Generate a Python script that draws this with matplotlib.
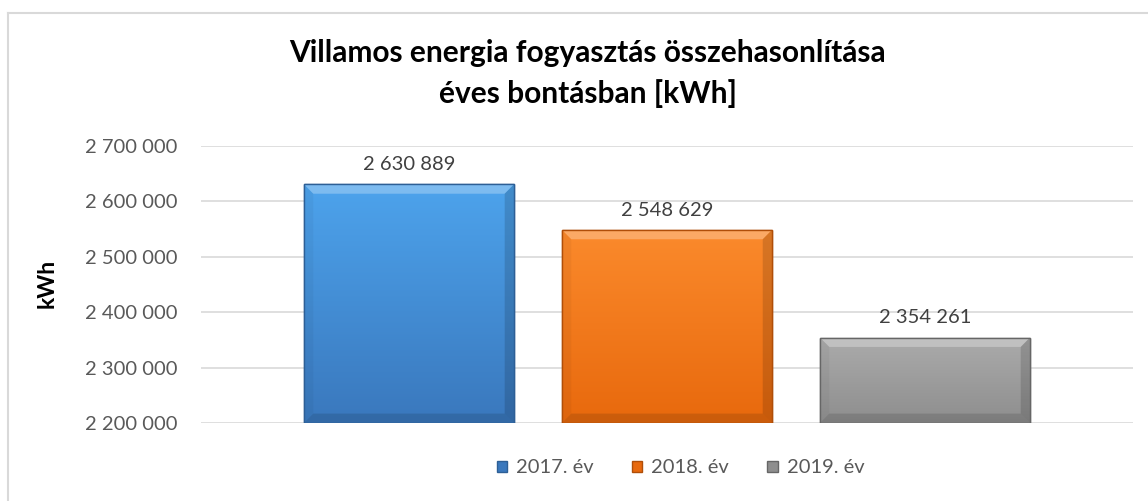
import numpy as np
import matplotlib.pyplot as plt
from matplotlib.colors import LinearSegmentedColormap
from matplotlib.lines import Line2D
from matplotlib.patches import Patch, Polygon

#//==\\--//==\\--//==\\--//==\\--//==\\--//==\\--//==\\--//==\\--//==\\--//==\\#

years   = ["2017. év", "2018. év", "2019. év"]
values  = [2630889, 2548629, 2354261]
labels  = ["2 630 889", "2 548 629", "2 354 261"]
yticks  = [2200000, 2300000, 2400000, 2500000, 2600000, 2700000]
ytick_labels = ["2 200 000", "2 300 000", "2 400 000", "2 500 000", "2 600 000", "2 700 000"]

# (top colour, bottom colour, edge colour) for each series
colors = [("#4da3ec", "#3a78bd", "#2d5f96"),
          ("#fb8a2c", "#e8690d", "#b04e08"),
          ("#ababab", "#8e8e8e", "#666666")]

title = "Villamos energia fogyasztás összehasonlítása\néves bontásban [kWh]"

#//==\\--//==\\--//==\\--//==\\--//==\\--//==\\--//==\\--//==\\--//==\\--//==\\#

plt.rcParams['font.family'] = ['Lato', 'DejaVu Sans']

fig = plt.figure(figsize=(11.48, 5.01), dpi=100)
ax = fig.add_axes([0.1751, 0.1557, 0.8118, 0.5529])

ymin, ymax = 2200000, 2700000
x = np.arange(len(values))
width = 0.814

bars = ax.bar(x, [v - ymin for v in values], bottom=ymin, width=width,
              color=[c[1] for c in colors], edgecolor=[c[2] for c in colors],
              linewidth=1.0, zorder=3)

# bevel size in data units (~10 px)
bx, by = 0.036, 17000

# vertical gradient inside each bar (clipped to the bar) + bevel faces
for bar, (ctop, cbot, cedge) in zip(bars, colors):
    cmap = LinearSegmentedColormap.from_list("g", [cbot, ctop])
    x0, y0 = bar.get_x(), bar.get_y()
    w, h = bar.get_width(), bar.get_height()
    x1, y1 = x0 + w, y0 + h
    grad = np.linspace(0, 1, 100).reshape(-1, 1)
    im = ax.imshow(grad, cmap=cmap, origin="lower", aspect="auto",
                   extent=(x0, x1, y0, y1), zorder=3.5)
    im.set_clip_path(bar)

    # top face lighter, right/bottom darker
    ax.add_patch(Polygon([(x0, y1), (x1, y1), (x1 - bx, y1 - by), (x0 + bx, y1 - by)],
                         closed=True, facecolor="white", alpha=0.28, lw=0, zorder=4))
    ax.add_patch(Polygon([(x0, y0), (x0, y1), (x0 + bx, y1 - by), (x0 + bx, y0 + by)],
                         closed=True, facecolor="black", alpha=0.04, lw=0, zorder=4))
    ax.add_patch(Polygon([(x1, y0), (x1, y1), (x1 - bx, y1 - by), (x1 - bx, y0 + by)],
                         closed=True, facecolor="black", alpha=0.14, lw=0, zorder=4))
    ax.add_patch(Polygon([(x0, y0), (x1, y0), (x1 - bx, y0 + by), (x0 + bx, y0 + by)],
                         closed=True, facecolor="black", alpha=0.12, lw=0, zorder=4))
    ax.add_patch(plt.Rectangle((x0, y0), w, h, fill=False, edgecolor=cedge,
                               linewidth=1.0, zorder=4.5))

for xi, v, lab in zip(x, values, labels):
    ax.annotate(lab, (xi, v), xytext=(0, 8), textcoords="offset points",
                ha="center", va="bottom", fontsize=14.5, color="#404040")

ax.set_ylim(ymin, ymax)
ax.set_xlim(-0.806, 2.806)
ax.set_yticks(yticks)
ax.set_yticklabels(ytick_labels, fontsize=14.5, color="#595959")
ax.set_xticks([])
ax.tick_params(axis="y", length=0, pad=17)
ax.grid(axis="y", color="#d9d9d9", linewidth=1.2, zorder=0)
for s in ax.spines.values():
    s.set_visible(False)

fig.text(0.041, 0.435, "kWh", rotation=90, ha="center", va="center",
         fontsize=16.5, fontweight="bold", color="black")

fig.text(0.512, 0.853, title, ha="center", va="center", fontsize=21.5,
         fontweight="bold", color="black", linespacing=1.48)

handles = [Patch(facecolor=c[1], edgecolor=c[2]) for c in colors]
fig.legend(handles, years, loc="center", bbox_to_anchor=(0.593, 0.066), ncol=3,
           frameon=False, fontsize=14.5, handlelength=0.5, handleheight=0.5,
           handletextpad=0.45, columnspacing=1.9, labelcolor="#595959")

# outer chart border (only top and left are inside the picture)
fig.add_artist(Line2D([0.007, 0.007], [0.0, 0.974], color="#d9d9d9", lw=1.5))
fig.add_artist(Line2D([0.007, 1.0], [0.974, 0.974], color="#d9d9d9", lw=1.5))

fig.savefig("out.png", dpi=100, facecolor="white")
